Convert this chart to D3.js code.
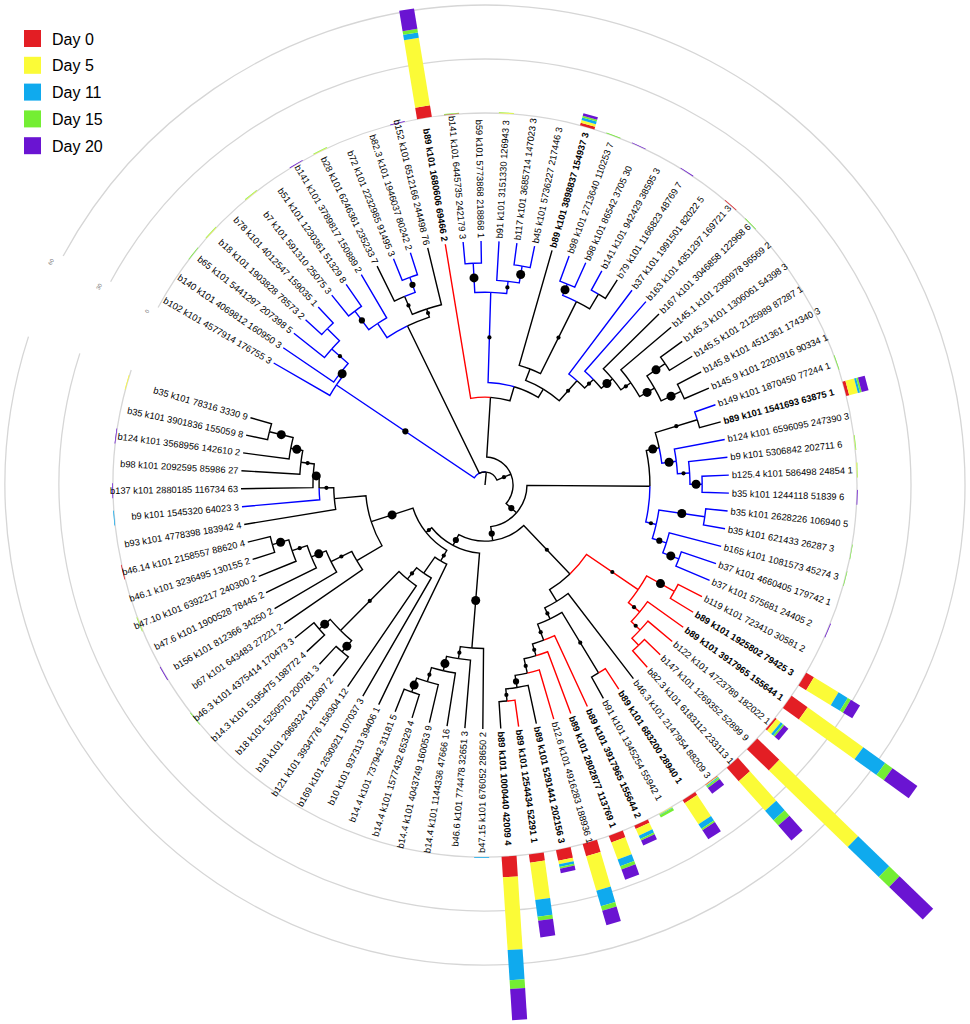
<!DOCTYPE html>
<html><head><meta charset="utf-8">
<script src="https://cdn.jsdelivr.net/npm/d3@7"></script>
<style>body{margin:0;background:#fff;} svg text{font-family:"Liberation Sans",Arial,sans-serif;}</style>
</head><body><svg id="c" width="970" height="1024"></svg>
<script>
// ---------------- DATA ----------------
const leafNames = [
"b102 k101 4577914 176755 3","b140 k101 4069812 160950 3","b65 k101 5441297 207398 5","b18 k101 1903828 78573 2",
"b78 k101 4012547 159035 1","b7 k101 591310 25075 3","b51 k101 1230361 51329 8","b141 k101 3789817 150889 2",
"b28 k101 6246361 235233 7","b72 k101 2232985 91495 3","b82.3 k101 1946037 80242 2","b152 k101 6512166 244498 76",
"b89 k101 1680606 69466 2","b141 k101 6445735 242179 3","b59 k101 5773868 218868 1","b91 k101 3151330 126943 3",
"b117 k101 3685714 147023 3","b45 k101 5736227 217446 3","b89 k101 3898837 154937 3","b98 k101 2713640 110253 7",
"b98 k101 86542 3705 30","b141 k101 942429 38595 3","b79 k101 1166823 48769 7","b37 k101 1991501 82022 5",
"b163 k101 4351297 169721 3","b167 k101 3046858 122968 6","b145.1 k101 2360978 96569 2","b145.3 k101 1306061 54398 3",
"b145.5 k101 2125989 87287 1","b145.8 k101 4511361 174340 3","b145.9 k101 2201916 90334 1","b149 k101 1870450 77244 1",
"b89 k101 1541693 63875 1","b124 k101 6596095 247390 3","b9 k101 5306842 202711 6","b125.4 k101 586498 24854 1",
"b35 k101 1244118 51839 6","b35 k101 2628226 106940 5","b35 k101 621433 26287 3","b165 k101 1081573 45274 3",
"b37 k101 4660405 179742 1","b37 k101 575681 24405 2","b119 k101 723410 30581 2","b89 k101 1925802 79425 3",
"b89 k101 3917965 155644 1","b122 k101 4723789 182022 1","b147 k101 1269352 52899 9","b82.3 k101 6183112 233113 1",
"b46.3 k101 2147954 88209 3","b89 k101 683200 28940 1","b91 k101 1345254 55942 1","b89 k101 3917965 155644 2",
"b89 k101 2802877 113769 1","b12.6 k101 4916283 188936 1","b89 k101 5291441 202156 3","b89 k101 1254434 52291 1",
"b89 k101 1000440 42009 4","b47.15 k101 676052 28650 2","b46.6 k101 774478 32651 3","b14.4 k101 1144336 47666 16",
"b14.4 k101 4043749 160053 9","b14.4 k101 1577432 65329 4","b14.4 k101 737942 31181 5","b10 k101 937313 39406 1",
"b169 k101 2630921 107037 3","b121 k101 3934776 156304 12","b18 k101 2969324 120097 2","b18 k101 5250570 200781 3",
"b14.3 k101 5195475 198772 4","b46.3 k101 4375414 170473 3","b67 k101 643483 27221 2","b156 k101 812366 34250 2",
"b47.6 k101 1900528 78445 2","b47.10 k101 6392217 240300 2","b46.1 k101 3236495 130155 2","b46.14 k101 2158557 88620 4",
"b93 k101 4778398 183942 4","b9 k101 1545320 64023 3","b137 k101 2880185 116734 63","b98 k101 2092595 85986 27",
"b124 k101 3568956 142610 2","b35 k101 3901836 155059 8","b35 k101 78316 3330 9"];

// branch group of each leaf: B = blue clade, R = red clade, N = none
const leafGroup = ("BBBBBBBBNBBN" + "RBBBBBNBBBNBBNNNNNN" + "BNBBBBBBBBB" + "RRRRRR" + "NRNRRRNRN" +
  "NNNNNNNNNNNNNNNNNNNNBNNNNN").split("");

// tree: leaves are indices; ")depth:support" after each clade (depth 0-100, tips at 100)
const treeNewick = "((0,(1,(2,(3,4)91:0)84:1)75:3)73.4:2,(((5,6)89:2,7)79.5:0,((8,(9,10)90.5:2)84:1,11)76:1)72.5:0," +
 "((12,(((13,14)91:3,(15,(16,17)91:3)84:1)79:1,((18,((19,20)89:3,(21,22)91:0)84:1)51:0,(23,(24,(25,(26,((27,28)89:3,(29,30)89:3)80:3)73:1)68:3)62:1)57:1)46:0)42:0)36:0," +
 "((((31,32)91:1,(33,(34,(35,36)89:3)84:1)79:3)73:3,((37,38)91:3,(39,(40,41)85:3)78:2)72:1)67.6:0," +
 "((((42,43)89:3,(44,(45,(46,47)91:0)87:1)82:1)76:1,(48,((49,50)90:1,(51,(52,(53,(54,(55,56)89:1)84:2)79:1)73:1)68:1)61:1)56:0)50.4:1," +
 "((57,(58,(59,(60,(61,62)90:3)84:1)78:3)72:1)67:3," +
 "((63,(64,(65,((66,67)90:3,(68,69)90:3)84:1)50:1)44:0)36:1,((70,(71,(72,(73,(74,75)90.5:3)83.5:1)77:3)70.5:1)61:0,(76,(77,(78,(79,(80,(81,82)91:3)81:3)76:1)70.5:3)68:1)62:0)49:3)31:1" +
 ")28:2)23:2)17.2:2)11.5:1)5.3:0";

// stacked abundance bars (per leaf index)
const barLeaf = [2,3,5,7,8,11,12,13,15,18,19,20,22,24,25,31,32,34,35,36,38,39,41,43,44,45,46,47,48,49,50,51,52,53,54,55,56,57,69,71,73,75,77,78,80,82];
const day0  = [0,0,0,0,0,0,6.5,0.3,0,1.5,0,0,0,0.4,0,0,1.7,0,0,0,0,0,0,5,11,1,17,10,0.3,2,0,2,4,7,6,4.6,11.5,0,0,0,0,0.4,0,0,0,0];
const day5  = [0,0.3,0.3,0,0.3,0,38,0,0.4,1.5,0,0,0,0,0,0,5,0.2,0.3,0,0,0,0,16,38,3,61,22,0.5,14,0.5,4,10,20,2,21,40.5,0,0,0,0.2,0,0,0,0,0.4];
const day11 = [0,0,0,0,0,0,3,0,0,1.5,0,0,0,0,0,0,1.2,0,0,0,0,0,0,6,15,1.5,24,7,0.5,3,0.3,2,4,9,1.5,9.3,16.8,0.4,0,0,0,0,0.4,0,0,0];
const day15 = [0.4,0.3,0.3,0,0.3,0,2,0.3,0.2,1,0.4,0,0,0,0.4,0.4,1,0.3,0.2,0,0.3,0.3,0,2,5,1,8,4,1,1,1.5,1,2,2.6,1,2.3,4.9,0,0.4,0,0.3,0,0,0,0,0];
const day20 = [0,0,0,0.4,0,0.4,11.5,0,0,1.5,0,0.4,0.4,0,0,0,3.9,0,0,0.4,0,0,0.4,6,17,3,26,11,4,6,0,3,6,8.4,2.5,9.3,17.3,0,0,0.4,0,0,0,0.4,0.4,0];
const dayNames = ["Day 0","Day 5","Day 11","Day 15","Day 20"];
const ringTicks = [0,30,60];

// ---------------- DRAW ----------------
const cx = 485, cy = 485;
const svg = d3.select("#c");
const dayColor = d3.scaleOrdinal().domain(dayNames).range(["#e31e24","#fbfb37","#0faaee","#74ee33","#6a14d2"]);
const groupColor = d3.scaleOrdinal().domain(["B","R","N"]).range(["#0000ff","#ff0000","#000000"]);
const angleScale = d3.scaleLinear().domain([0, leafNames.length - 1]).range([300, 646]);
const radiusScale = d3.scaleLinear().domain([0, 100]).range([0, 244]);
const barScale = d3.scaleLinear().domain([0, 60]).range([372, 480]);
const rad = d => d * Math.PI / 180;
const polar = (r, a) => [cx + r * Math.sin(rad(a)), cy - r * Math.cos(rad(a))];

function parseTree(s) {
  let i = 0;
  function num() { const j = i; while (i < s.length && /[0-9.]/.test(s[i])) i++; return +s.slice(j, i); }
  function node() {
    if (s[i] === "(") {
      i++; const ch = [node()];
      while (s[i] === ",") { i++; ch.push(node()); }
      i++; const depth = num(); i++; const support = num();
      return { children: ch, depth, support };
    }
    return { leaf: num() };
  }
  return node();
}
const root = d3.hierarchy(parseTree(treeNewick));
root.eachAfter(n => {
  if (!n.children) { n.a = angleScale(n.data.leaf); n.r = radiusScale(100); n.grp = leafGroup[n.data.leaf]; }
  else {
    n.a = (n.children[0].a + n.children[n.children.length - 1].a) / 2;
    n.r = radiusScale(n.data.depth);
    const g = n.children.map(c => c.grp);
    n.grp = g.every(x => x === g[0]) ? g[0] : "N";
  }
});

// rings
const ringG = svg.append("g");
ringG.selectAll("path").data(ringTicks).join("path")
  .attr("d", v => { const r = barScale(v); const [x0, y0] = polar(r, 298.5), [x1, y1] = polar(r, 648);
    return `M${x0},${y0}A${r},${r} 0 1 1 ${x1},${y1}`; })
  .attr("fill", "none").attr("stroke", "#d6d6d6").attr("stroke-width", 1.3);
ringG.selectAll("text").data(ringTicks).join("text")
  .attr("transform", v => { const [x, y] = polar(barScale(v) + 6, 297.2); return `translate(${x},${y}) rotate(-62)`; })
  .attr("text-anchor", "middle").attr("font-size", 5.5).attr("fill", "#777").text(v => v);

// bars
const barG = svg.append("g").attr("transform", `translate(${cx},${cy})`);
const barData = barLeaf.map((leaf, k) => {
  const vals = [day0[k], day5[k], day11[k], day15[k], day20[k]];
  let cum = 0;
  return { leaf, segs: vals.map((v, j) => { const s = { y0: cum, y1: cum + v, day: dayNames[j] }; cum += v; return s; }).filter(s => s.y1 > s.y0) };
});
barG.selectAll("g").data(barData).join("g")
  .attr("transform", d => `rotate(${angleScale(d.leaf)})`)
  .selectAll("rect").data(d => d.segs).join("rect")
  .attr("x", -7.5).attr("width", 15)
  .attr("y", s => -barScale(s.y1)).attr("height", s => barScale(s.y1) - barScale(s.y0))
  .attr("fill", s => dayColor(s.day));

// branches
const treeG = svg.append("g");
const links = root.descendants().filter(n => n.parent);
treeG.selectAll("path.br").data(links).join("path").attr("class", "br")
  .attr("d", n => {
    const p = n.parent;
    const [x0, y0] = polar(p.r, p.a), [x1, y1] = polar(p.r, n.a), [x2, y2] = polar(n.r, n.a);
    const sweep = n.a > p.a ? 1 : 0;
    return `M${x0},${y0}A${p.r},${p.r} 0 0 ${sweep} ${x1},${y1}L${x2},${y2}`;
  })
  .attr("fill", "none").attr("stroke", n => groupColor(n.grp)).attr("stroke-width", 1.4);
{
  const [x0, y0] = polar(0, root.a), [x1, y1] = polar(root.r, root.a);
  treeG.append("path").attr("d", `M${x0},${y0}L${x1},${y1}`).attr("stroke", "#000").attr("stroke-width", 1.4);
}
// support dots
const dotR = [0, 2.1, 3.1, 4.5];
treeG.selectAll("circle").data(root.descendants().filter(n => n.children && n.parent && n.data.support > 0)).join("circle")
  .attr("cx", n => polar((n.parent.r + n.r) / 2, n.a)[0])
  .attr("cy", n => polar((n.parent.r + n.r) / 2, n.a)[1])
  .attr("r", n => dotR[n.data.support]).attr("fill", "#000");

// labels
treeG.selectAll("text").data(root.leaves()).join("text")
  .attr("transform", n => { const left = (n.a % 360) > 180;
    return `translate(${cx},${cy}) rotate(${n.a - 90}) translate(247,0)` + (left ? " rotate(180)" : ""); })
  .attr("text-anchor", n => (n.a % 360) > 180 ? "end" : "start")
  .attr("dy", "0.35em").attr("font-size", 9.3)
  .attr("font-weight", n => leafNames[n.data.leaf].startsWith("b89 ") ? "bold" : "normal")
  .attr("fill", "#000")
  .text(n => leafNames[n.data.leaf]);

// legend
const lg = svg.append("g").selectAll("g").data(dayNames).join("g")
  .attr("transform", (d, i) => `translate(24,${30 + i * 26.8})`);
lg.append("rect").attr("width", 17).attr("height", 17).attr("fill", d => dayColor(d));
lg.append("text").attr("x", 28).attr("y", 14.5).attr("font-size", 16).attr("fill", "#000").text(d => d);
</script>
</body></html>
